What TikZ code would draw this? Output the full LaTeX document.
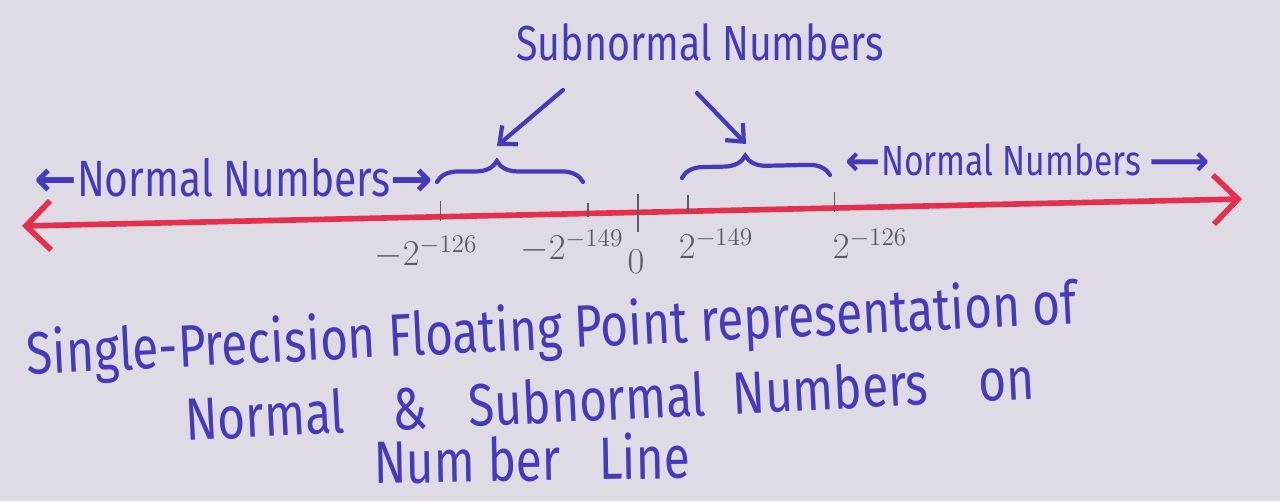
\documentclass[tikz,border=0pt]{standalone}
\usepackage{fontspec}
\newfontfamily\handfont{Fira Sans}[FakeStretch=0.8]
\newfontfamily\arrowfont{DejaVu Sans}
\usepackage{tikz}
\usetikzlibrary{arrows.meta, calc, positioning, decorations.pathreplacing}
\usepackage{xcolor}
\definecolor{paper}{RGB}{222,219,229}
\definecolor{inkblue}{RGB}{70,58,188}
\definecolor{inkred}{RGB}{228,48,78}
\definecolor{pencil}{RGB}{95,90,100}
\newcommand{\larr}{{\arrowfont\bfseries ←}}
\newcommand{\rarr}{{\arrowfont\bfseries →}}
\newcommand{\lrarr}{{\arrowfont\bfseries ⟶}}

\begin{document}
\begin{tikzpicture}[x=0.02cm, y=-0.02cm,
  hand/.style={text=inkblue, font=\handfont\fontsize{#1}{#1}\selectfont, inner sep=0pt},
  numlbl/.style={text=pencil, font=\fontsize{22}{22}\selectfont, inner sep=0pt},
  redline/.style={draw=inkred, line width=3.2pt, line cap=round,
    {Straight Barb[length=14pt,width=28pt]}-{Straight Barb[length=14pt,width=28pt]}},
  tick/.style={draw=pencil, line width=1pt},
  inkbrace/.style={draw=inkblue, line width=2.4pt, line cap=round, decorate},
  inkarrow/.style={draw=inkblue, line width=2.4pt, line cap=round, -{Straight Barb[length=8pt,width=14pt]}}
]
  % paper
  \fill[paper] (0,0) rectangle (1280,501);

  % number line
  \coordinate (lineL) at (22,226);
  \coordinate (lineR) at (1242,199);
  \draw[redline] (lineL) -- (lineR);

  % ticks
  \coordinate (nmin) at ($(lineL)!0.343!(lineR)$);
  \coordinate (smin) at ($(lineL)!0.464!(lineR)$);
  \coordinate (zero) at ($(lineL)!0.505!(lineR)$);
  \coordinate (smax) at ($(lineL)!0.546!(lineR)$);
  \coordinate (nmax) at ($(lineL)!0.666!(lineR)$);
  \foreach \t/\up/\dn in {nmin/16/4, smin/10/4, zero/18/20, smax/16/2, nmax/16/4}
    \draw[tick] ($(\t)+(0,-\up)$) -- ($(\t)+(0,\dn)$);

  % tick labels
  \node[numlbl] (lnmin) at (426,252) {$-2^{-126}$};
  \node[numlbl] (lsmin) at (572,246) {$-2^{-149}$};
  \node[numlbl] (lzero) at (636,262) {$0$};
  \node[numlbl] (lsmax) at (716,244) {$2^{-149}$};
  \node[numlbl] (lnmax) at (870,244) {$2^{-126}$};

  % braces
  \coordinate (bl1) at (437,182);
  \coordinate (br1) at (583,182);
  \coordinate (bl2) at (682,178);
  \coordinate (br2) at (830,175);
  \draw[inkbrace, decoration={brace, amplitude=12pt, aspect=0.41}] (bl1) -- (br1);
  \draw[inkbrace, decoration={brace, amplitude=12pt, aspect=0.43}] (bl2) -- (br2);

  % subnormal label and arrows
  \node[hand=28] (sublbl) at (700,42) {Subnormal Numbers};
  \coordinate (sub1) at (563,90);
  \coordinate (sub2) at (697,93);
  \coordinate (tip1) at (497,146);
  \coordinate (tip2) at (746,144);
  \draw[inkarrow] (sub1) -- (tip1);
  \draw[inkarrow] (sub2) -- (tip2);

  % normal labels
  \node[hand=29] (nleft) at (234,178) {\larr Normal Numbers\rarr};
  \node[hand=24] (nright) at (1028,160) {\larr Normal Numbers \lrarr};

  % title
  \node[hand=34, rotate=2.8] (title1) at (552,332) {Single-Precision Floating Point representation of};
  \node[hand=34, rotate=2.8] (title2) at (610,398) {Normal\hspace{0.8em}\&\hspace{0.7em}Subnormal\hspace{0.45em}Numbers\hspace{0.85em}on};
  \node[hand=34, rotate=1] (title3) at (532,458) {Num ber \ \ Line};
\end{tikzpicture}
\end{document}
